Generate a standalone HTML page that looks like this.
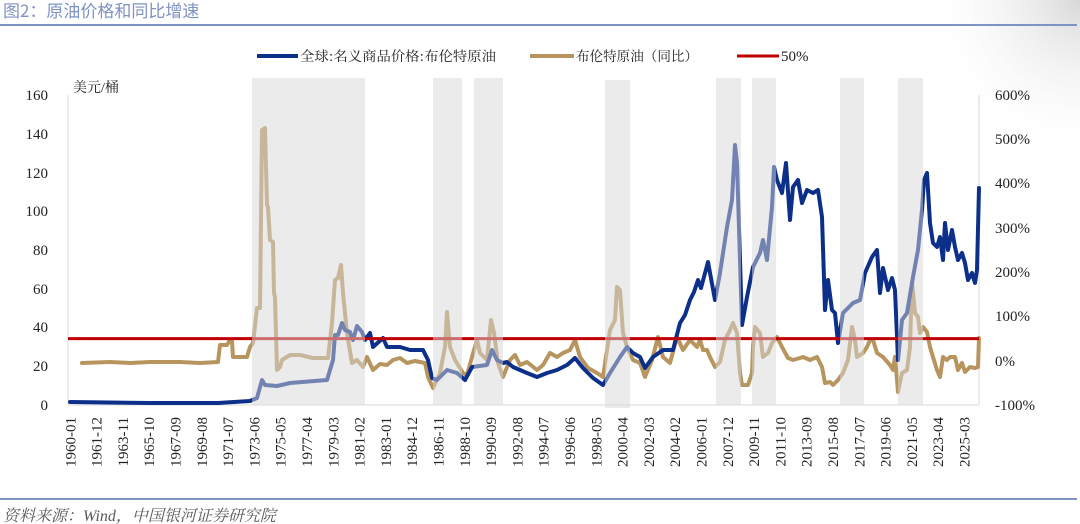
<!DOCTYPE html>
<html><head><meta charset="utf-8"><style>
html,body{margin:0;padding:0;background:#fff;}
svg{display:block;}
</style></head><body>
<svg width="1080" height="524" viewBox="0 0 1080 524" xmlns="http://www.w3.org/2000/svg">
<defs>
<radialGradient id="cg" cx="1080" cy="0" r="160" gradientUnits="userSpaceOnUse">
<stop offset="0" stop-color="#d8d8d8"/><stop offset="1" stop-color="#ffffff" stop-opacity="0"/>
</radialGradient>
</defs>
<rect x="0" y="0" width="1080" height="524" fill="#fff"/>
<rect x="900" y="0" width="180" height="160" fill="url(#cg)"/>
<!-- title -->
<text x="3" y="17" font-family="'Noto Sans CJK SC','WenQuanYi Zen Hei',sans-serif" font-size="17" fill="#7f92c4">图2：原油价格和同比增速</text>
<line x1="0" y1="25" x2="1077" y2="25" stroke="#7f93c3" stroke-width="2"/>
<!-- legend -->
<line x1="257" y1="56" x2="298" y2="56" stroke="#0c2f8a" stroke-width="4"/>
<text x="300" y="61" font-family="'Noto Serif CJK SC',serif" font-size="13.5" fill="#222" textLength="196" lengthAdjust="spacingAndGlyphs">全球:名义商品价格:布伦特原油</text>
<line x1="530" y1="56" x2="574" y2="56" stroke="#b8955e" stroke-width="4"/>
<text x="576" y="61" font-family="'Noto Serif CJK SC',serif" font-size="13.5" fill="#222" textLength="122" lengthAdjust="spacingAndGlyphs">布伦特原油（同比）</text>
<line x1="737" y1="56" x2="779" y2="56" stroke="#c00000" stroke-width="3"/>
<text x="781" y="61" font-family="'Liberation Serif',serif" font-size="15" fill="#222">50%</text>
<!-- axes -->
<line x1="68" y1="95" x2="68" y2="405" stroke="#d9d9d9" stroke-width="1"/>
<line x1="979" y1="95" x2="979" y2="405" stroke="#d9d9d9" stroke-width="1"/>
<line x1="68" y1="405" x2="979" y2="405" stroke="#d9d9d9" stroke-width="1"/>
<text x="73" y="92" font-family="'Liberation Serif','Noto Serif CJK SC',serif" font-size="14" fill="#222">美元/桶</text>
<g font-family="'Liberation Serif',serif" font-size="15" fill="#222" text-anchor="end">
<text x="48" y="100">160</text><text x="48" y="139">140</text><text x="48" y="178">120</text>
<text x="48" y="216">100</text><text x="48" y="255">80</text><text x="48" y="294">60</text>
<text x="48" y="332">40</text><text x="48" y="371">20</text><text x="48" y="410">0</text>
</g>
<g font-family="'Liberation Serif',serif" font-size="15" fill="#222">
<text x="995" y="100">600%</text><text x="995" y="144">500%</text><text x="995" y="188">400%</text>
<text x="995" y="233">300%</text><text x="995" y="277">200%</text><text x="995" y="321">100%</text>
<text x="995" y="366">0%</text><text x="995" y="410">-100%</text>
</g>
<g font-family="'Liberation Serif',serif" font-size="15" fill="#222" text-anchor="end">
<text transform="translate(70,417) rotate(-90)" dy="0.35em">1960-01</text>
<text transform="translate(96.3,417) rotate(-90)" dy="0.35em">1961-12</text>
<text transform="translate(122.6,417) rotate(-90)" dy="0.35em">1963-11</text>
<text transform="translate(148.9,417) rotate(-90)" dy="0.35em">1965-10</text>
<text transform="translate(175.2,417) rotate(-90)" dy="0.35em">1967-09</text>
<text transform="translate(201.5,417) rotate(-90)" dy="0.35em">1969-08</text>
<text transform="translate(227.8,417) rotate(-90)" dy="0.35em">1971-07</text>
<text transform="translate(254.1,417) rotate(-90)" dy="0.35em">1973-06</text>
<text transform="translate(280.4,417) rotate(-90)" dy="0.35em">1975-05</text>
<text transform="translate(306.7,417) rotate(-90)" dy="0.35em">1977-04</text>
<text transform="translate(333,417) rotate(-90)" dy="0.35em">1979-03</text>
<text transform="translate(359.3,417) rotate(-90)" dy="0.35em">1981-02</text>
<text transform="translate(385.6,417) rotate(-90)" dy="0.35em">1983-01</text>
<text transform="translate(411.9,417) rotate(-90)" dy="0.35em">1984-12</text>
<text transform="translate(438.2,417) rotate(-90)" dy="0.35em">1986-11</text>
<text transform="translate(464.5,417) rotate(-90)" dy="0.35em">1988-10</text>
<text transform="translate(490.8,417) rotate(-90)" dy="0.35em">1990-09</text>
<text transform="translate(517.1,417) rotate(-90)" dy="0.35em">1992-08</text>
<text transform="translate(543.4,417) rotate(-90)" dy="0.35em">1994-07</text>
<text transform="translate(569.7,417) rotate(-90)" dy="0.35em">1996-06</text>
<text transform="translate(596,417) rotate(-90)" dy="0.35em">1998-05</text>
<text transform="translate(622.3,417) rotate(-90)" dy="0.35em">2000-04</text>
<text transform="translate(648.6,417) rotate(-90)" dy="0.35em">2002-03</text>
<text transform="translate(674.9,417) rotate(-90)" dy="0.35em">2004-02</text>
<text transform="translate(701.2,417) rotate(-90)" dy="0.35em">2006-01</text>
<text transform="translate(727.5,417) rotate(-90)" dy="0.35em">2007-12</text>
<text transform="translate(753.8,417) rotate(-90)" dy="0.35em">2009-11</text>
<text transform="translate(780.1,417) rotate(-90)" dy="0.35em">2011-10</text>
<text transform="translate(806.4,417) rotate(-90)" dy="0.35em">2013-09</text>
<text transform="translate(832.7,417) rotate(-90)" dy="0.35em">2015-08</text>
<text transform="translate(859,417) rotate(-90)" dy="0.35em">2017-07</text>
<text transform="translate(885.3,417) rotate(-90)" dy="0.35em">2019-06</text>
<text transform="translate(911.6,417) rotate(-90)" dy="0.35em">2021-05</text>
<text transform="translate(937.9,417) rotate(-90)" dy="0.35em">2023-04</text>
<text transform="translate(964.2,417) rotate(-90)" dy="0.35em">2025-03</text>
</g>
<!-- series -->
<g fill="none" stroke-linejoin="round" stroke-linecap="round">
<polyline stroke="#b8955e" stroke-width="4" points="82,363 110,362 130,363 150,362 180,362 200,363 218,362 220,345 227,345 230,340 232,341 233,357 247,357 250,347 253,343 257,308 260,308 262,130 265,128 267,205 268,207 270,240 273,242 274,293 275,297 277,370 280,367 282,360 290,355 300,355 313,358 328,358 332,323 335,280 338,278 341,265 343,293 347,333 352,363 357,360 363,367 367,357 373,370 380,364 387,365 393,360 400,358 407,363 415,361 425,363 428,377 433,388 440,373 445,347 447,312 450,347 455,360 463,373 467,375 472,357 477,340 480,353 487,360 491,320 494,333 498,363 503,377 510,360 515,355 520,365 527,362 537,370 543,365 550,353 557,357 563,353 570,350 575,340 580,357 588,368 597,373 603,377 610,330 615,320 617,287 620,290 623,333 627,347 633,360 640,363 645,377 652,360 658,337 663,357 670,363 677,337 683,350 690,340 697,347 700,340 703,350 707,350 710,357 715,367 720,362 725,340 730,330 733,323 737,333 740,373 742,385 748,385 752,373 753,347 755,327 760,333 763,357 768,353 772,343 777,337 782,347 788,358 793,360 800,358 803,357 810,360 817,357 822,367 825,383 830,382 833,385 838,380 843,373 848,360 852,327 855,340 857,357 863,353 867,347 870,340 873,340 877,353 883,357 890,365 893,370 895,357 897,380 898,392 902,373 907,370 910,347 912,282 915,313 918,317 920,333 923,327 927,332 930,347 933,357 937,370 940,377 943,357 947,360 950,357 955,357 958,370 962,363 965,372 970,367 975,368 978,367 979,338"/>
<polyline stroke="#0c2f8a" stroke-width="4" points="70,402 150,403 218,403 250,401 257,398 262,380 265,385 277,386 290,383 327,380 330,370 333,360 335,335 338,335 342,323 345,330 350,332 353,340 357,326 362,332 365,340 370,333 373,347 383,338 387,347 400,347 410,350 423,350 428,360 432,378 437,380 447,370 457,373 465,380 472,367 487,365 492,350 497,360 503,363 507,362 513,367 520,370 527,373 537,377 547,373 557,370 567,365 575,358 583,368 593,378 603,385 610,373 620,357 627,347 633,353 640,357 645,368 653,357 663,350 673,350 680,323 685,315 690,300 694,292 698,280 701,288 708,262 715,300 720,273 727,227 732,200 735,145 737,163 742,325 747,297 753,267 760,253 763,240 767,260 772,207 774,167 777,180 782,193 786,163 790,220 793,187 798,180 802,203 807,190 813,193 818,190 822,217 825,310 828,280 832,310 835,313 838,343 843,313 853,303 860,300 865,273 872,257 877,250 880,293 883,268 888,290 892,278 895,290 898,360 902,320 907,313 913,277 918,250 922,210 924,180 927,173 930,223 933,243 937,247 940,237 943,260 945,223 948,250 952,230 955,247 958,260 962,253 965,263 968,280 972,273 975,283 977,270 979,188"/>
</g>
<line x1="68" y1="338.6" x2="979" y2="338.6" stroke="#c00000" stroke-width="3"/>
<!-- shaded overlays -->
<g fill="#d7d7d7" fill-opacity="0.5">
<rect x="252" y="78" width="113" height="327"/>
<rect x="433" y="78" width="29" height="327"/>
<rect x="474" y="78" width="29" height="327"/>
<rect x="605" y="80" width="25" height="328"/>
<rect x="716" y="78" width="25" height="327"/>
<rect x="752" y="78" width="24" height="327"/>
<rect x="840" y="78" width="24" height="327"/>
<rect x="898" y="78" width="25" height="327"/>
</g>
<!-- footer -->
<line x1="0" y1="499" x2="1077" y2="499" stroke="#7f93c3" stroke-width="2"/>
<text x="3" y="521" font-family="'Liberation Serif','Noto Serif CJK SC',serif" font-style="italic" font-size="16" fill="#595959">资料来源：Wind，中国银河证券研究院</text>
</svg>
</body></html>
